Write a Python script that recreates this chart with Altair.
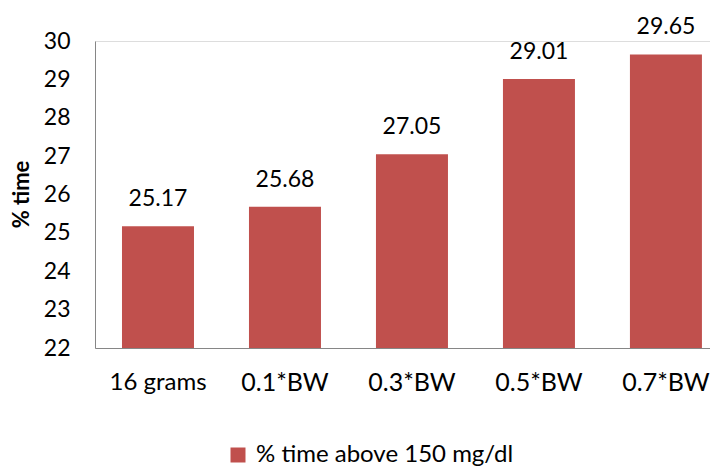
import altair as alt
import pandas as pd

categories = ["16 grams", "0.1*BW", "0.3*BW", "0.5*BW", "0.7*BW"]
values = [25.17, 25.68, 27.05, 29.01, 29.65]
series_name = "% time above 150 mg/dl"
y_ticks = [22, 23, 24, 25, 26, 27, 28, 29, 30]

df = pd.DataFrame({"cat": categories, "val": values, "series": [series_name] * len(values)})

FONT = "Lato"
COLOR = "#C0504D"

x = alt.X(
    "cat:N",
    sort=categories,
    title=None,
    scale=alt.Scale(paddingInner=0.433, paddingOuter=0.138, align=0.77),
    axis=alt.Axis(
        labelAngle=0,
        ticks=False,
        labelPadding=22,
        labelFontSize=alt.ExprRef(expr="datum.value == '16 grams' ? 24 : 25"),
        labelColor="#000000",
        labelFont=FONT,
        labelLimit=300,
        domainColor="#868686",
        domainWidth=1,
    ),
)
y = alt.Y(
    "val:Q",
    title="% time",
    scale=alt.Scale(domain=[y_ticks[0], y_ticks[-1]], nice=False, zero=False),
    axis=alt.Axis(
        values=y_ticks,
        tickCount=len(y_ticks),
        format="d",
        ticks=False,
        grid=False,
        labelOverlap=False,
        labelFlush=False,
        labelPadding=25,
        labelFontSize=23,
        labelFont=FONT,
        labelColor="#000000",
        domainColor="#868686",
        domainWidth=1,
        titleFont=FONT,
        titleFontSize=22,
        titleFontWeight="bold",
        titleColor="#000000",
        titleAngle=270,
        titleX=-74,
        titleY=153,
        titleAlign="center",
        titleBaseline="middle",
    ),
)

bars = alt.Chart(df).mark_bar().encode(
    x=x,
    y=y,
    y2=alt.datum(y_ticks[0]),
    color=alt.Color(
        "series:N",
        scale=alt.Scale(domain=[series_name], range=[COLOR]),
        legend=alt.Legend(
            title=None,
            orient="none",
            legendX=131,
            legendY=402,
            symbolType="square",
            symbolSize=225,
            symbolStrokeWidth=0,
            labelFont=FONT,
            labelFontSize=24,
            labelColor="#000000",
            labelLimit=400,
            padding=0,
            labelOffset=6,
        ),
    ),
)

text = alt.Chart(df).mark_text(
    baseline="alphabetic", dy=-20, font=FONT, fontSize=23, color="#000000"
).encode(
    x=x,
    y=y,
    text=alt.Text("val:Q", format=".2f"),
)

chart = (
    alt.layer(bars, text)
    .properties(
        width=615,
        height=307,
        autosize=alt.AutoSizeParams(type="none"),
        padding={"left": 87, "top": 33, "right": 0, "bottom": 119},
    )
    .configure_view(stroke="transparent", strokeWidth=0)
    .configure(background="#ffffff")
)

chart.save("out.html", embed_options={"renderer": "svg", "actions": False})
